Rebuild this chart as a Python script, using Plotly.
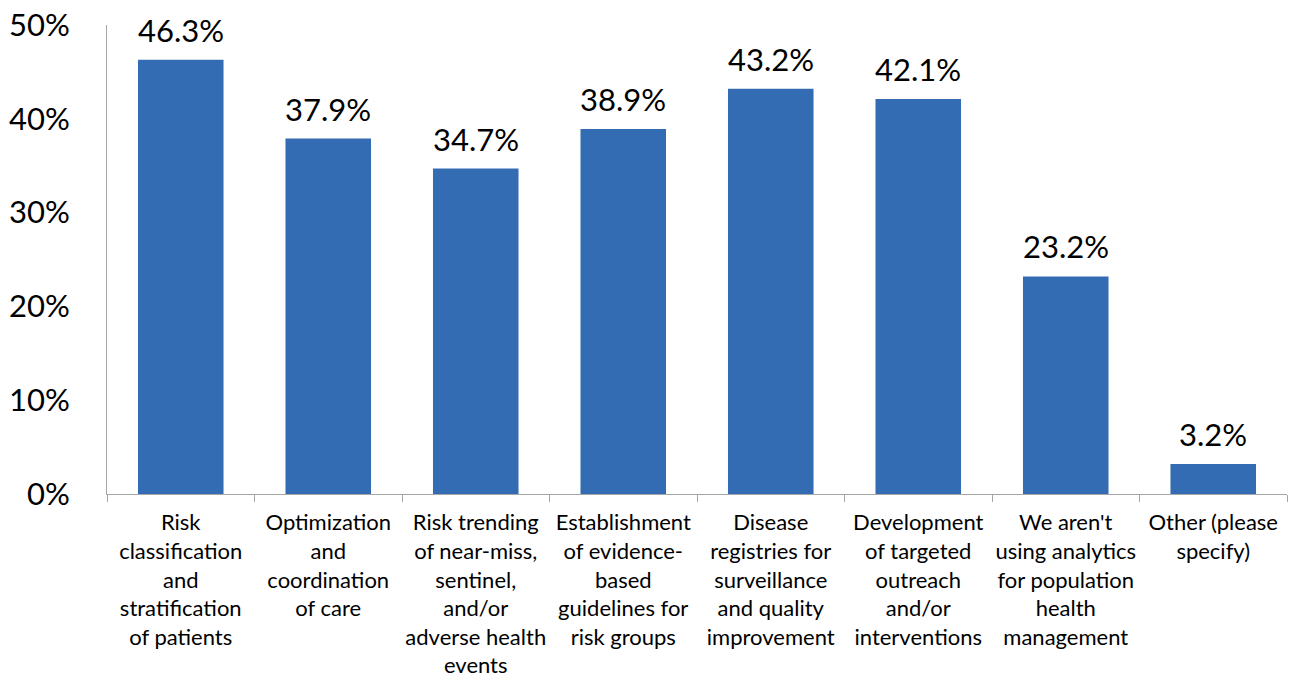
import plotly.graph_objects as go

categories = [
    "Risk<br>classification<br>and<br>stratification<br>of patients",
    "Optimization<br>and<br>coordination<br>of care",
    "Risk trending<br>of near-miss,<br>sentinel,<br>and/or<br>adverse health<br>events",
    "Establishment<br>of evidence-<br>based<br>guidelines for<br>risk groups",
    "Disease<br>registries for<br>surveillance<br>and quality<br>improvement",
    "Development<br>of targeted<br>outreach<br>and/or<br>interventions",
    "We aren't<br>using analytics<br>for population<br>health<br>management",
    "Other (please<br>specify)",
]
values = [46.3, 37.9, 34.7, 38.9, 43.2, 42.1, 23.2, 3.2]
value_labels = [f"{v:.1f}%" for v in values]
y_ticks = [0, 10, 20, 30, 40, 50]
y_tick_labels = [f"{t}%" for t in y_ticks]

FONT = "Lato"

fig = go.Figure(
    go.Bar(
        x=categories,
        y=values,
        marker=dict(color="#346CB3", line=dict(width=0)),
        width=0.58,
    )
)

for cat, val, lab in zip(categories, values, value_labels):
    fig.add_annotation(
        x=cat,
        y=val,
        text=lab,
        showarrow=False,
        xanchor="center",
        yanchor="bottom",
        yshift=9,
        font=dict(family=FONT, size=31, color="#000000"),
    )

fig.update_layout(
    width=1291,
    height=679,
    margin=dict(l=107, r=4, t=25, b=185),
    paper_bgcolor="white",
    plot_bgcolor="white",
    showlegend=False,
    font=dict(family=FONT, color="#000000"),
)
fig.update_yaxes(
    range=[0, 50],
    tickvals=y_ticks,
    ticktext=y_tick_labels,
    tickfont=dict(family=FONT, size=31, color="#000000"),
    showgrid=False,
    zeroline=False,
    showline=True,
    linecolor="#A6A6A6",
    linewidth=1,
    ticks="",
    ticklabelstandoff=30,
    automargin=False,
)
fig.update_xaxes(
    tickfont=dict(family=FONT, size=22, color="#000000"),
    showgrid=False,
    showline=True,
    linecolor="#A6A6A6",
    linewidth=1,
    ticks="outside",
    tickson="boundaries",
    ticklen=7,
    tickcolor="#A6A6A6",
    tickangle=0,
    ticklabelstandoff=9,
    automargin=False,
)

fig.write_html("out.html")
